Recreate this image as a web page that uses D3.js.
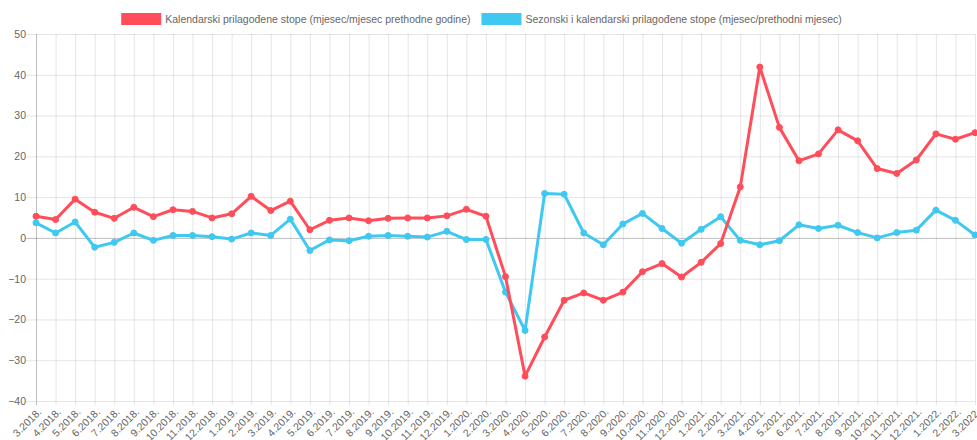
<!DOCTYPE html>
<html>
<head>
<meta charset="utf-8">
<script src="https://cdn.jsdelivr.net/npm/d3@7"></script>
<style>
    body { margin: 0; background: #fff; }
    svg { display: block; font-family: "Liberation Sans", Arial, sans-serif; }
</style>
</head>
<body>
<div id="chart"></div>
<script>
var months = ["3.2018.", "4.2018.", "5.2018.", "6.2018.", "7.2018.", "8.2018.", "9.2018.", "10.2018.", "11.2018.", "12.2018.",
    "1.2019.", "2.2019.", "3.2019.", "4.2019.", "5.2019.", "6.2019.", "7.2019.", "8.2019.", "9.2019.", "10.2019.", "11.2019.", "12.2019.",
    "1.2020.", "2.2020.", "3.2020.", "4.2020.", "5.2020.", "6.2020.", "7.2020.", "8.2020.", "9.2020.", "10.2020.", "11.2020.", "12.2020.",
    "1.2021.", "2.2021.", "3.2021.", "4.2021.", "5.2021.", "6.2021.", "7.2021.", "8.2021.", "9.2021.", "10.2021.", "11.2021.", "12.2021.",
    "1.2022.", "2.2022.", "3.2022."];

// kalendarski prilagođene stope (mjesec/mjesec prethodne godine)
var yoy = [5.3, 4.5, 9.5, 6.3, 4.8, 7.5, 5.2, 6.9, 6.5, 4.9,
    5.9, 10.2, 6.7, 9.0, 2.0, 4.3, 4.9, 4.2, 4.8, 4.9,
    4.9, 5.4, 7.0, 5.3, -9.5, -33.9, -24.3, -15.3, -13.5, -15.3,
    -13.3, -8.3, -6.3, -9.6, -6.0, -1.4, 12.5, 41.9, 27.1, 18.9,
    20.6, 26.5, 23.8, 17.0, 15.8, 19.1, 25.5, 24.2, 25.8];

// sezonski i kalendarski prilagođene stope (mjesec/prethodni mjesec)
var mom = [3.7, 1.2, 3.9, -2.3, -1.1, 1.2, -0.6, 0.6, 0.6, 0.3,
    -0.3, 1.2, 0.6, 4.6, -3.1, -0.5, -0.7, 0.4, 0.6, 0.4,
    0.2, 1.6, -0.4, -0.4, -13.3, -22.7, 10.9, 10.7, 1.2, -1.7,
    3.4, 6.0, 2.3, -1.3, 2.1, 5.2, -0.6, -1.7, -0.7, 3.2,
    2.3, 3.1, 1.3, 0.0, 1.3, 1.9, 6.8, 4.3, 0.7];

var yTicks = [-40, -30, -20, -10, 0, 10, 20, 30, 40, 50];

var series = [
    { name: "Kalendarski prilagođene stope (mjesec/mjesec prethodne godine)", values: yoy, color: "#ff4d5a" },
    { name: "Sezonski i kalendarski prilagođene stope (mjesec/prethodni mjesec)", values: mom, color: "#3fc8f0" }
];

var width = 977, height = 440;
var margin = { top: 34, right: 2, bottom: 39, left: 36 };
var plotW = width - margin.left - margin.right;
var plotH = height - margin.top - margin.bottom;
var fontSize = "10.5px";

var svg = d3.select("#chart")
    .append("svg")
    .attr("width", width)
    .attr("height", height);

var x = d3.scalePoint()
    .domain(months)
    .range([0, plotW]);

var y = d3.scaleLinear()
    .domain([-40, 50])
    .range([plotH, 0]);

var g = svg.append("g")
    .attr("transform", "translate(" + margin.left + "," + margin.top + ")");

// y axis + horizontal grid
var yAxis = g.append("g")
    .call(d3.axisLeft(y).tickValues(yTicks).tickSizeInner(-plotW).tickSizeOuter(0).tickPadding(10));
yAxis.select(".domain").remove();
yAxis.selectAll("line")
    .attr("x1", -10)
    .attr("stroke", function (d) { return d === 0 ? "rgba(0,0,0,0.25)" : "rgba(0,0,0,0.1)"; });
yAxis.selectAll("text")
    .attr("fill", "#666")
    .style("font-size", fontSize);

// x axis + vertical grid
var xAxis = g.append("g")
    .attr("transform", "translate(0," + plotH + ")")
    .call(d3.axisBottom(x).tickSizeInner(-plotH).tickSizeOuter(0));
xAxis.select(".domain").remove();
xAxis.selectAll("line")
    .attr("y1", 4)
    .attr("stroke", function (d, i) { return i === 0 ? "rgba(0,0,0,0.25)" : "rgba(0,0,0,0.1)"; });
xAxis.selectAll("text")
    .attr("x", 0)
    .attr("y", 0)
    .attr("dy", "0.35em")
    .attr("transform", "translate(3,9) rotate(-45)")
    .style("text-anchor", "end")
    .attr("fill", "#666")
    .style("font-size", fontSize);

var line = d3.line()
    .x(function (d, i) { return x(months[i]); })
    .y(function (d) { return y(d); });

// draw second series first so the first one sits on top
series.slice().reverse().forEach(function (s) {
    var sg = g.append("g");
    sg.append("path")
        .datum(s.values)
        .attr("fill", "none")
        .attr("stroke", s.color)
        .attr("stroke-width", 3)
        .attr("stroke-linejoin", "round")
        .attr("d", line);
    sg.selectAll("circle")
        .data(s.values)
        .enter()
        .append("circle")
        .attr("cx", function (d, i) { return x(months[i]); })
        .attr("cy", function (d) { return y(d); })
        .attr("r", 3)
        .attr("fill", s.color)
        .attr("stroke", s.color)
        .attr("stroke-width", 1);
});

// legend
var legend = svg.append("g");
var items = legend.selectAll(".item")
    .data(series)
    .enter()
    .append("g")
    .attr("class", "item");
items.append("rect")
    .attr("width", 40)
    .attr("height", 12)
    .attr("y", 13)
    .attr("fill", function (d) { return d.color; });
items.append("text")
    .attr("x", 44)
    .attr("y", 19)
    .attr("dy", "0.35em")
    .attr("fill", "#666")
    .style("font-size", fontSize)
    .text(function (d) { return d.name; });

var offsets = [], total = 0;
items.each(function () {
    var w = 44 + d3.select(this).select("text").node().getComputedTextLength();
    offsets.push(total);
    total += w + 11;
});
total -= 11;
var startX = (width - total) / 2 - 7;
items.attr("transform", function (d, i) { return "translate(" + (startX + offsets[i]) + ",0)"; });
</script>
</body>
</html>
